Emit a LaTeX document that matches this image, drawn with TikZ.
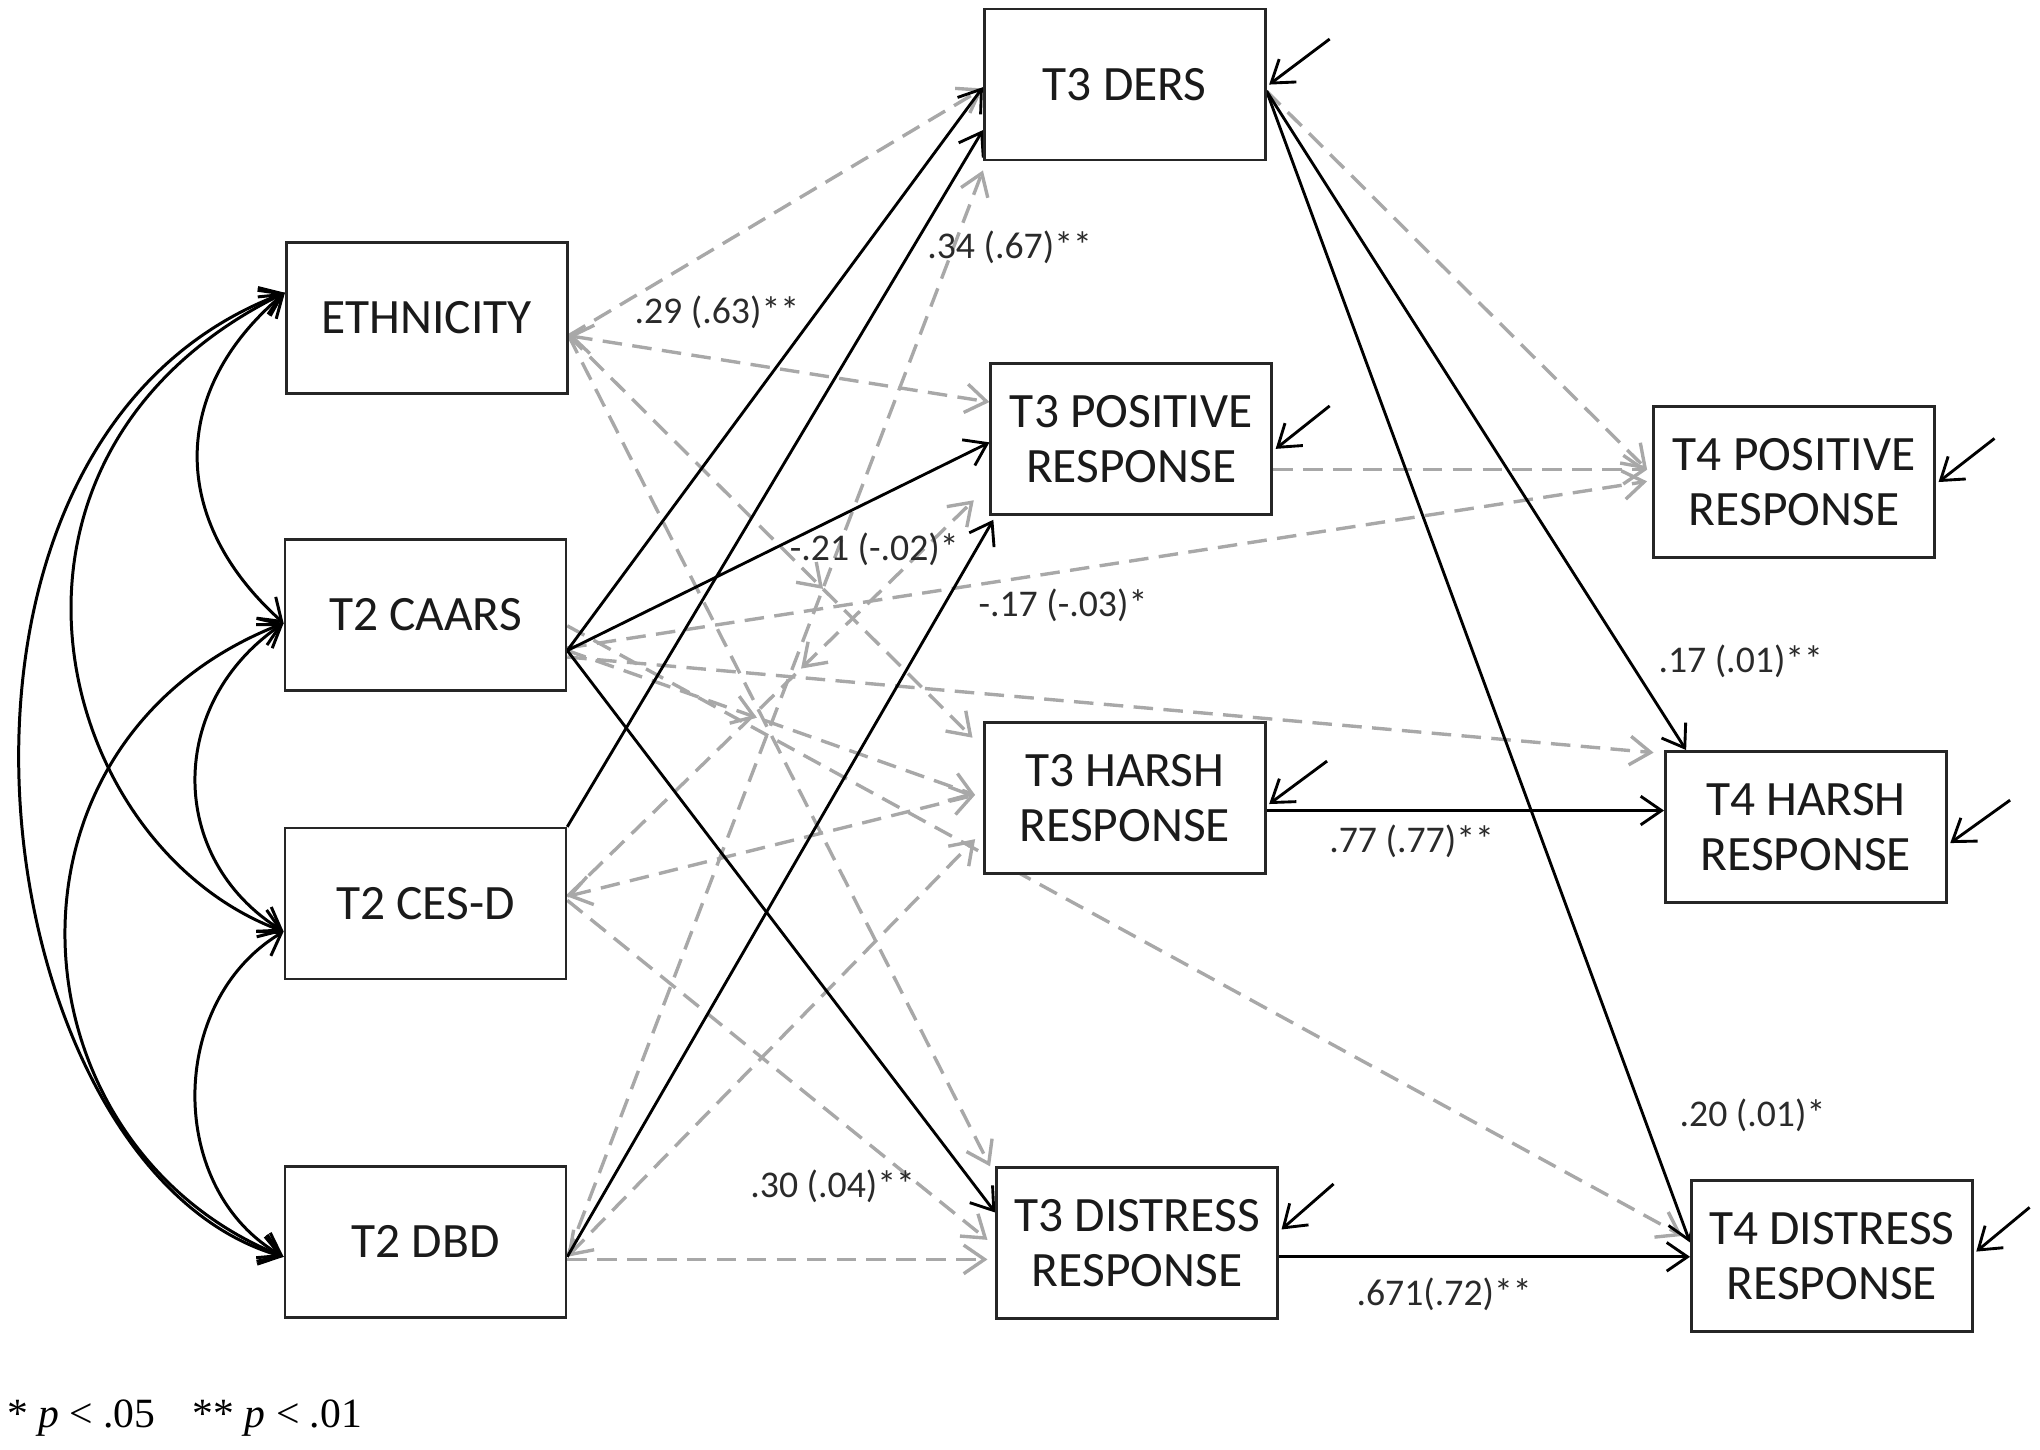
\documentclass[tikz,border=0pt]{standalone}
\usepackage{fontspec}
\setmainfont{Carlito}
\newfontfamily\footfont{Liberation Serif}
\usetikzlibrary{arrows.meta,decorations.markings,calc}
\pgfdeclarelayer{bg}
\pgfsetlayers{bg,main}
\definecolor{dgray}{HTML}{A8A8A8}
\definecolor{txt}{HTML}{1A1A1A}
\definecolor{lbl}{HTML}{2A2A2A}
\tikzset{
  barb/.tip={Straight Barb[length=8pt,width=11pt]},
  box/.style={draw=black!85, line width=1pt, fill=white, minimum width=108pt,
    minimum height=58pt, inner sep=0pt, align=center,
    font=\fontsize{19}{21}\selectfont, text=txt},
  sig/.style={draw=black, line width=1.1pt, -barb},
  nsig/.style={draw=dgray, line width=1.3pt, dash pattern=on 7.5pt off 4pt, -barb},
  nsigb/.style={nsig, barb-barb},
  covar/.style={draw=black, line width=1.15pt, barb-barb},
  lab/.style={font=\fontsize{14.5}{16}\selectfont, text=lbl, inner sep=0pt},
  midarrow/.style={postaction={decorate}, decoration={markings,
    mark=at position #1 with {\arrow{Straight Barb[length=8pt,width=11pt]}}}},
  midrev/.style={postaction={decorate}, decoration={markings,
    mark=at position #1 with {\arrowreversed{Straight Barb[length=8pt,width=11pt]}}}}
}
\begin{document}
\begin{tikzpicture}[x=0.5pt,y=-0.5pt]
\useasboundingbox (0,0) rectangle (1568,1114);

% boxes
\node[box] (eth)    at (328,244.5)  {ETHNICITY};
\node[box] (caars)  at (327,472.5)  {T2 CAARS};
\node[box] (cesd)   at (327,694.5)  {T2 CES-D};
\node[box] (dbd)    at (327,954.5)  {T2 DBD};
\node[box] (ders)   at (864.5,65)   {T3 DERS};
\node[box] (pos3)   at (869.5,337.5){T3 POSITIVE\\RESPONSE};
\node[box] (harsh3) at (864.5,613.5){T3 HARSH\\RESPONSE};
\node[box] (dist3)  at (874,955.5)  {T3 DISTRESS\\RESPONSE};
\node[box] (pos4)   at (1379,370.5) {T4 POSITIVE\\RESPONSE};
\node[box] (harsh4) at (1388,635.5) {T4 HARSH\\RESPONSE};
\node[box] (dist4)  at (1408,965.5) {T4 DISTRESS\\RESPONSE};

% source points
\coordinate (ethS) at ([yshift=-6.75pt]eth.east);
\coordinate (caS)  at ([yshift=-13.75pt]caars.east);
\coordinate (ceS)  at ([yshift=2.75pt]cesd.east);
\coordinate (dbS)  at ([yshift=-5.75pt]dbd.east);
\coordinate (deS)  at ([yshift=-2.5pt]ders.east);
\coordinate (h3o)  at ([yshift=-4.75pt]harsh3.east);
\coordinate (d3o)  at ([yshift=-5.25pt]dist3.east);
\coordinate (dbH)  at ([yshift=-6.75pt]dbd.east);
\coordinate (p3H)  at ([yshift=-11.75pt]pos3.east);

% residual starts
\coordinate (rders)   at (1022,30);
\coordinate (rpos3)   at (1022,312);
\coordinate (rharsh3) at (1020,585);
\coordinate (rdist3)  at (1025,910);
\coordinate (rpos4)   at (1533,337);
\coordinate (rharsh4) at (1545,615);
\coordinate (rdist4)  at (1560,928);

\begin{pgfonlayer}{bg}
% covariances
\draw[covar] ([yshift=9.75pt]eth.west) .. controls (130,300) and (130,400) .. ([yshift=-3.25pt]caars.west);
\draw[covar] ([yshift=-3.25pt]caars.west) .. controls (128,540) and (128,660) .. ([yshift=-10.75pt]cesd.west);
\draw[covar] ([yshift=-10.75pt]cesd.west) .. controls (128,770) and (128,915) .. ([yshift=-5.75pt]dbd.west);
\draw[covar] ([yshift=9.75pt]eth.west) .. controls (-35,350) and (40,650) .. ([yshift=-10.75pt]cesd.west);
\draw[covar] ([yshift=-3.25pt]caars.west) .. controls (-15,570) and (5,880) .. ([yshift=-5.75pt]dbd.west);
\draw[covar] ([yshift=9.75pt]eth.west) .. controls (-88,340) and (-15,900) .. ([yshift=-5.75pt]dbd.west);

% non-significant paths
\draw[nsig] (ethS) -- ([yshift=-1.5pt]ders.west);
\draw[nsigb] (ethS) -- ([yshift=14.25pt]pos3.west);
\draw[nsig, midarrow=0.63] (ethS) -- ([xshift=-4pt,yshift=23.25pt]harsh3.west);
\draw[nsig] (ethS) -- ([xshift=-2pt]dist3.north west);
\draw[nsig, midarrow=0.465] (caS) -- ([xshift=-3pt,yshift=1.25pt]harsh3.west);
\draw[nsig] ([yshift=-12.75pt]caars.east) -- ([xshift=-2pt,yshift=0.25pt]pos4.west);
\draw[nsig] ([yshift=-16.25pt]caars.east) -- ([xshift=-4pt,yshift=-1pt]harsh4.north west);
\draw[nsig] ([yshift=-4.25pt]caars.east) -- ([xshift=-3pt,yshift=7.75pt]dist4.west);
\draw[nsig, midrev=0.575] (ceS) -- ([xshift=-6pt,yshift=6pt]pos3.south west);
\draw[nsigb] (ceS) -- ([xshift=-3pt,yshift=1.25pt]harsh3.west);
\draw[nsig] ([yshift=1.25pt]cesd.east) -- ([xshift=-3pt,yshift=1.25pt]dist3.west);
\draw[nsig] (dbS) -- ([yshift=-3.5pt]ders.south west);
\draw[nsigb] (dbS) -- ([xshift=-3pt,yshift=-15.75pt]harsh3.west);
\draw[nsig] (dbH) -- ([xshift=-3pt]dbH -| dist3.west);
\draw[nsig] (deS) -- ([xshift=-2pt,yshift=4.75pt]pos4.west);
\draw[nsig] (p3H) -- ([xshift=-2pt]p3H -| pos4.west);

% significant paths
\draw[sig] (caS) -- ([yshift=-1pt]ders.west);
\draw[sig] (cesd.north east) -- ([yshift=-17.5pt]ders.west);
\draw[sig] (caS) -- ([yshift=-1.25pt]pos3.west);
\draw[sig] (dbS) -- ([xshift=1.5pt,yshift=-1.5pt]pos3.south west);
\draw[sig] (caS) -- ([yshift=11.75pt]dist3.west);
\draw[sig] (deS) -- ([xshift=8.5pt]harsh4.north west);
\draw[sig] (deS) -- ([yshift=5.25pt]dist4.west);
\draw[sig] (h3o) -- (h3o -| harsh4.west);
\draw[sig] (d3o) -- (d3o -| dist4.west);
\end{pgfonlayer}

% residual arrows
\draw[sig] (rders)   -- ([xshift=1pt]ders.east);
\draw[sig] (rpos3)   -- ([xshift=1pt,yshift=-3.75pt]pos3.east);
\draw[sig] (rharsh3) -- ([xshift=1pt,yshift=-2.25pt]harsh3.east);
\draw[sig] (rdist3)  -- ([xshift=1pt,yshift=5.25pt]dist3.east);
\draw[sig] (rpos4)   -- ([xshift=1pt]pos4.east);
\draw[sig] (rharsh4) -- ([xshift=1pt,yshift=-6.25pt]harsh4.east);
\draw[sig] (rdist4)  -- ([xshift=1pt,yshift=1.75pt]dist4.east);

% coefficient labels
\node[lab] (l1) at (551,240)  {.29 (.63)**};
\node[lab] (l2) at (776,190)  {.34 (.67)**};
\node[lab] (l3) at (672,422)  {-.21 (-.02)*};
\node[lab] (l4) at (817,465)  {-.17 (-.03)*};
\node[lab] (l5) at (640,912)  {.30 (.04)**};
\node[lab] (l6) at (1085,647) {.77 (.77)**};
\node[lab] (l7) at (1110,995) {.671(.72)**};
\node[lab] (l8) at (1338,508) {.17 (.01)**};
\node[lab] (l9) at (1347,857) {.20 (.01)*};

% footnote
\node[anchor=west, inner sep=0pt, font=\footfont\fontsize{16}{18}\selectfont] (foot) at (5,1090)
  {* \textit{p} < .05\hspace{0.9em}** \textit{p} < .01};
\end{tikzpicture}
\end{document}
